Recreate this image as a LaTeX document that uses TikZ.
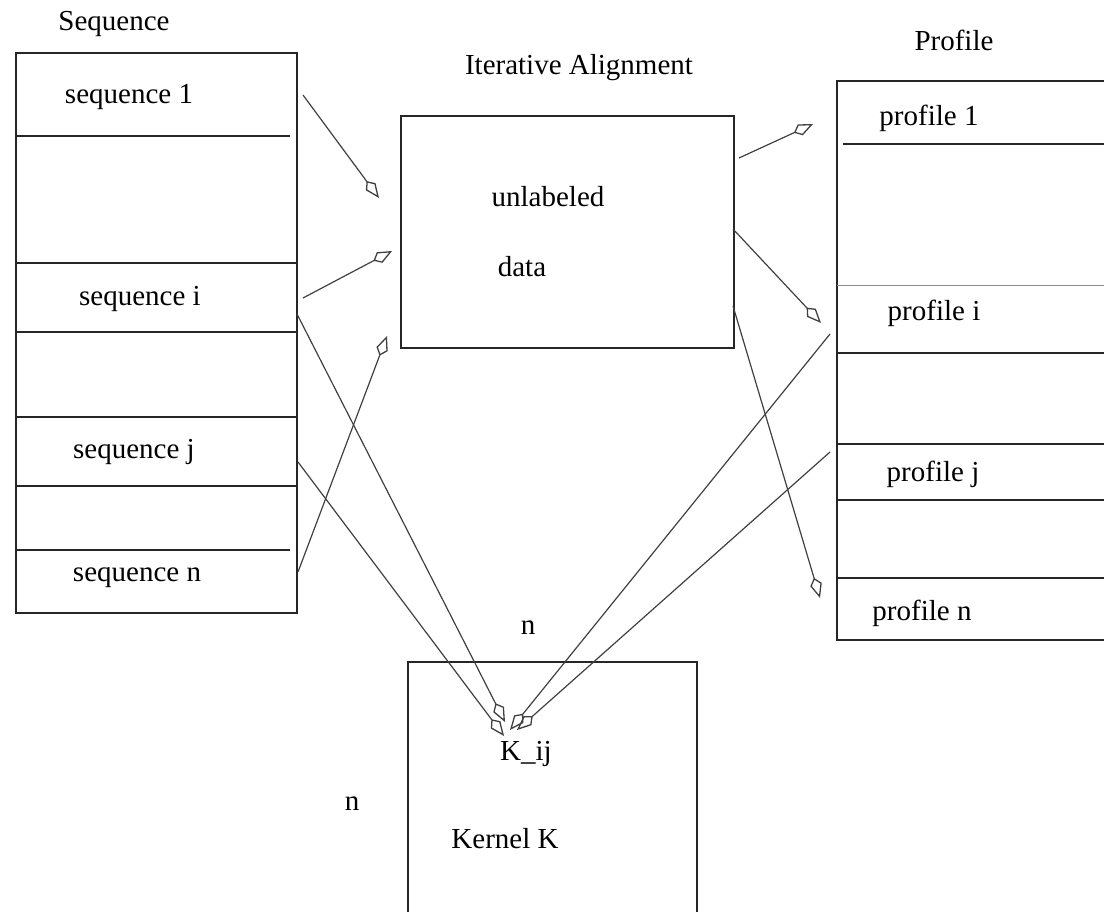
\documentclass[tikz,border=0pt]{standalone}
\usepackage{fontspec}
\setmainfont{Liberation Serif}
\usetikzlibrary{arrows.meta}

\begin{document}
\begin{tikzpicture}[
  x=1pt, y=-1pt,
  frame/.style={draw=black!85, line width=1.6pt},
  rowline/.style={draw=black!85, line width=1.5pt},
  thinrow/.style={draw=black!45, line width=1pt},
  lbl/.style={inner sep=0pt, font=\fontsize{29}{34}\selectfont},
  link/.style={draw=black!75, line width=1.2pt,
    -{Kite[open, length=21pt, width=12pt, inset=7pt, line width=1.3pt]}},
]
\useasboundingbox (0,0) rectangle (1104,912);

% ---------- sequence column ----------
\node[lbl] (seqtitle) at (114,24) {Sequence};
\node[frame, anchor=north west, minimum width=281pt, minimum height=560pt,
      inner sep=0pt] (seqbox) at (15,52) {};
\draw[rowline] (15,136) -- (290,136);
\draw[rowline] (15,263) -- (296,263);
\draw[rowline] (15,332) -- (296,332);
\draw[rowline] (15,417) -- (296,417);
\draw[rowline] (15,486) -- (296,486);
\draw[rowline] (15,550) -- (290,550);
\node[lbl] (seq1) at (129,97)  {sequence 1};
\node[lbl] (seqi) at (140,299) {sequence i};
\node[lbl] (seqj) at (134,452) {sequence j};
\node[lbl] (seqn) at (137,578) {sequence n};

% ---------- alignment box ----------
\node[lbl] (itertitle) at (579,68) {Iterative Alignment};
\node[frame, anchor=north west, minimum width=333pt, minimum height=232pt,
      inner sep=0pt] (align) at (400,115) {};
\node[lbl] (unlab) at (548,197) {unlabeled};
\node[lbl] (data)  at (522,267) {data};

% ---------- profile column (open on the right) ----------
\node[lbl] (proftitle) at (954,40) {Profile};
\draw[frame] (1104,81) -| (837,640) -- (1104,640);
\coordinate (profbox) at (837,81);
\draw[rowline] (843,144) -- (1104,144);
\draw[thinrow] (837,286) -- (1104,286);
\draw[rowline] (837,353) -- (1104,353);
\draw[rowline] (837,444) -- (1104,444);
\draw[rowline] (837,500) -- (1104,500);
\draw[rowline] (837,578) -- (1104,578);
\node[lbl] (prof1) at (929,118) {profile 1};
\node[lbl] (profi) at (934,313) {profile i};
\node[lbl] (profj) at (933,474) {profile j};
\node[lbl] (profn) at (922,613) {profile n};

% ---------- kernel box (runs off the bottom) ----------
\draw[frame] (408,912) |- (697,662) -- (697,912);
\node[lbl] (ntop)  at (528,628) {n};
\node[lbl] (nleft) at (352,804) {n};
\node[lbl] (kij)   at (526,754) {K\_ij};
\node[lbl] (kern)  at (505,839) {Kernel K};

% ---------- connector end points ----------
\coordinate (s1o) at (303,95);
\coordinate (sio) at (303,298);
\coordinate (sik) at (297,314);
\coordinate (sjk) at (298,462);
\coordinate (sno) at (298,572);
\coordinate (a1)  at (379,198);
\coordinate (ai)  at (392,251);
\coordinate (an)  at (387,336);
\coordinate (ao1) at (739,158);
\coordinate (aoi) at (733,229);
\coordinate (aon) at (733,306);
\coordinate (p1)  at (813,124);
\coordinate (pi)  at (821,323);
\coordinate (pn)  at (820,598);
\coordinate (pik) at (830,334);
\coordinate (pjk) at (830,452);
\coordinate (k1)  at (505,722);
\coordinate (k2)  at (504,736);
\coordinate (k3)  at (510,730);
\coordinate (k4)  at (517,730);

% ---------- connectors ----------
\draw[link] (s1o) -- (a1);
\draw[link] (sio) -- (ai);
\draw[link] (sno) -- (an);
\draw[link] (sik) -- (k1);
\draw[link] (sjk) -- (k2);
\draw[link] (ao1) -- (p1);
\draw[link] (aoi) -- (pi);
\draw[link] (aon) -- (pn);
\draw[link] (pik) -- (k3);
\draw[link] (pjk) -- (k4);
\end{tikzpicture}
\end{document}
